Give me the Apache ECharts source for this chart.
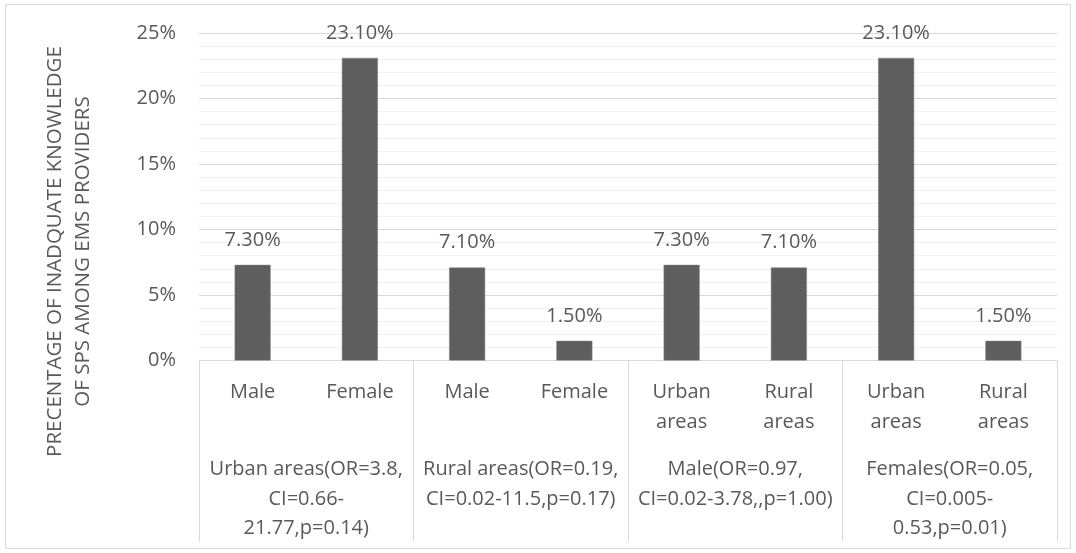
<!DOCTYPE html>
<html><head><meta charset="utf-8">
<script src="https://cdn.jsdelivr.net/npm/echarts@6/dist/echarts.min.js"></script>
<style>html,body{margin:0;padding:0;background:#fff}#c{width:1076px;height:553px}</style>
</head><body><div id="c"></div>
<script>
const categories = ["Male", "Female", "Male", "Female", "Urban\nareas", "Rural\nareas", "Urban\nareas", "Rural\nareas"];
const groups = ["Urban areas(OR=3.8,\nCI=0.66-\n21.77,p=0.14)", "Rural areas(OR=0.19,\nCI=0.02-11.5,p=0.17)", "Male(OR=0.97,\nCI=0.02-3.78,,p=1.00)", "Females(OR=0.05,\nCI=0.005-\n0.53,p=0.01)"];
const values = [7.3, 23.1, 7.1, 1.5, 7.3, 7.1, 23.1, 1.5];
const yTitle = "PRECENTAGE OF INADQUATE KNOWLEDGE\nOF SPS AMONG EMS PROVIDERS";

const FONT = "Open Sans";
const TXT = "#595959";
const FS = 20;
const chart = echarts.init(document.getElementById('c'), null, {renderer: 'canvas'});
chart.setOption({
  animation: false,
  textStyle: {fontFamily: FONT},
  graphic: [
    {type: 'rect', shape: {x: 5.5, y: 4.5, width: 1065, height: 544}, style: {fill: 'none', stroke: '#d9d9d9', lineWidth: 1}},
    {type: 'text', x: 69, y: 251.5, rotation: Math.PI / 2,
     style: {text: yTitle, fill: TXT, font: '20.5px "Open Sans"', lineHeight: 28.6, align: 'center', verticalAlign: 'middle'}}
  ],
  grid: {left: 199, right: 19, top: 33, bottom: 192.5, containLabel: false},
  xAxis: [{
    type: 'category', data: categories, position: 'bottom',
    axisLine: {show: true, lineStyle: {color: '#d9d9d9', width: 1}},
    axisTick: {show: false},
    axisLabel: {color: TXT, fontSize: FS, lineHeight: 30, margin: 16.5, verticalAlign: 'top', interval: 0}
  }, {
    type: 'category', data: groups, position: 'bottom', gridIndex: 0,
    axisLine: {show: false},
    axisTick: {show: true, length: 181, inside: false, lineStyle: {color: '#d9d9d9', width: 1}},
    axisLabel: {color: TXT, fontSize: FS, lineHeight: 29.5, margin: 94.5, verticalAlign: 'top', interval: 0, align: 'center'}
  }],
  yAxis: {
    type: 'value', min: 0, max: 25, interval: 5,
    axisLine: {show: false}, axisTick: {show: false},
    axisLabel: {color: TXT, fontSize: FS, margin: 23, formatter: v => v + '%'},
    splitLine: {lineStyle: {color: '#d9d9d9', width: 1}},
    minorTick: {show: false, splitNumber: 5},
    minorSplitLine: {show: true, lineStyle: {color: '#f0f0f0', width: 1}}
  },
  series: [{
    type: 'bar', data: values, xAxisIndex: 0, barWidth: 36,
    itemStyle: {color: '#5e5e5e', borderColor: '#808080', borderWidth: 0.5},
    label: {show: true, position: 'top', distance: 15, color: TXT, fontSize: FS, formatter: p => p.value.toFixed(2) + '%'}
  }]
});
</script></body></html>
